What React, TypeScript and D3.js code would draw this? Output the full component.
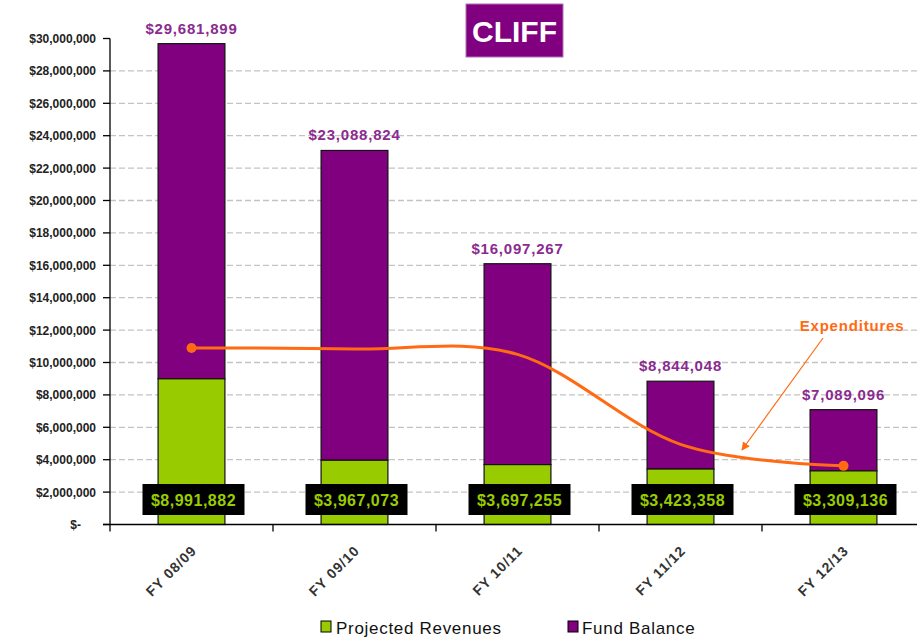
import * as d3 from "d3";

const categories = ["FY 08/09", "FY 09/10", "FY 10/11", "FY 11/12", "FY 12/13"];
const revenues = [8991882, 3967073, 3697255, 3423358, 3309136];
const totals = [29681899, 23088824, 16097267, 8844048, 7089096];
const fundBalance = totals.map((t, i) => t - revenues[i]);
const expenditures = [10900000, 10830000, 10500000, 4950000, 3620000];
const yTicks = d3.range(0, 30000001, 2000000);

const W = 917;
const H = 640;
const GREEN = "#99CC00";
const PURPLE = "#800080";
const ORANGE = "#FF6A13";
const FONT = "'Liberation Sans', Arial, sans-serif";

export default function App() {
  const left = 110;
  const right = 925;

  const xOuter = d3.scaleBand<string>().domain(categories).range([left, right]);
  const x = d3
    .scaleBand<string>()
    .domain(categories)
    .range([left, right])
    .paddingInner(0.59)
    .paddingOuter(0.295);
  const y = d3.scaleLinear().domain([0, 30000000]).range([524.5, 38.5]);

  const cx = (c: string) => (x(c) as number) + x.bandwidth() / 2;
  const money = d3.format(",");

  const line = d3
    .line<number>()
    .x((_, i) => cx(categories[i]))
    .y((d) => y(d))
    .curve(d3.curveCardinal.tension(0));

  const ends = [0, expenditures.length - 1];

  return (
    <div style={{ position: "absolute", left: 0, top: 0 }}>
      <svg width={W} height={H} style={{ display: "block", fontFamily: FONT }}>
        <defs>
          <marker id="arr" viewBox="0 0 10 10" refX="9" refY="5" markerWidth="7" markerHeight="7" orient="auto">
            <path d="M0,0 L10,5 L0,10 z" fill={ORANGE} />
          </marker>
        </defs>
        <rect width={W} height={H} fill="#fff" />

        {/* gridlines */}
        {yTicks.slice(1, -1).map((t) => (
          <line key={"g" + t} x1={left} x2={W} y1={y(t)} y2={y(t)} stroke="#c4c4c4" strokeWidth={1.3} strokeDasharray="6,3" />
        ))}

        {/* y axis */}
        <line x1={left} x2={left} y1={y(30000000)} y2={y(0)} stroke="#000" strokeWidth={1.3} />
        {yTicks.map((t) => (
          <g key={"y" + t}>
            <line x1={left - 7} x2={left} y1={y(t)} y2={y(t)} stroke="#000" strokeWidth={1.3} />
            <text
              x={t === 0 ? 81 : 96}
              y={y(t) + 4.5}
              textAnchor="end"
              fontSize={12}
              fontWeight="bold"
              fill="#222"
            >
              {t === 0 ? "$-" : "$" + money(t)}
            </text>
          </g>
        ))}

        {/* bars */}
        {categories.map((c, i) => (
          <g key={"b" + c}>
            <rect
              x={x(c)}
              y={y(revenues[i] + fundBalance[i])}
              width={x.bandwidth()}
              height={y(revenues[i]) - y(revenues[i] + fundBalance[i])}
              fill={PURPLE}
              stroke="#111"
              strokeWidth={1.2}
            />
            <rect
              x={x(c)}
              y={y(revenues[i])}
              width={x.bandwidth()}
              height={y(0) - y(revenues[i])}
              fill={GREEN}
              stroke="#111"
              strokeWidth={1.2}
            />
            <text
              x={cx(c)}
              y={y(totals[i]) - 10}
              textAnchor="middle"
              fontSize={15}
              fontWeight="bold"
              letterSpacing={0.8}
              fill="#8A2B8E"
            >
              {"$" + money(totals[i])}
            </text>
          </g>
        ))}

        {/* x axis */}
        <line x1={left - 7} x2={W} y1={y(0)} y2={y(0)} stroke="#000" strokeWidth={1.3} />
        {categories.map((c) => (
          <g key={"x" + c}>
            <line x1={xOuter(c)} x2={xOuter(c)} y1={y(0)} y2={y(0) + 7} stroke="#000" strokeWidth={1.3} />
            <text
              transform={`translate(${cx(c) + 6},${y(0) + 27}) rotate(-45)`}
              textAnchor="end"
              fontSize={14}
              fontWeight="bold"
              letterSpacing={1}
              fill="#333"
            >
              {c}
            </text>
          </g>
        ))}

        {/* expenditures line */}
        <path d={line(expenditures) ?? ""} fill="none" stroke={ORANGE} strokeWidth={3} />
        {ends.map((i) => (
          <circle key={"d" + i} cx={cx(categories[i])} cy={y(expenditures[i])} r={5} fill={ORANGE} />
        ))}
        <text x={852} y={331} textAnchor="middle" fontSize={15} fontWeight="bold" letterSpacing={0.8} fill={ORANGE}>
          Expenditures
        </text>
        <line x1={823} y1={338} x2={742} y2={450} stroke={ORANGE} strokeWidth={1.2} markerEnd="url(#arr)" />

        {/* revenue labels */}
        {categories.map((c, i) => (
          <g key={"l" + c}>
            <rect x={cx(c) - 49} y={484} width={102} height={31} fill="#000" />
            <text x={cx(c) + 2} y={505.5} textAnchor="middle" fontSize={16} fontWeight="bold" letterSpacing={0.5} fill={GREEN}>
              {"$" + money(revenues[i])}
            </text>
          </g>
        ))}

        {/* title */}
        <rect x={466} y={4} width={97} height={53} fill={PURPLE} stroke="#b070b0" strokeWidth={1} />
        <text x={514.5} y={42} textAnchor="middle" fontSize={30} fontWeight="bold" fill="#fff">
          CLIFF
        </text>

        {/* legend */}
        <rect x={321} y={621} width={10} height={11} fill={GREEN} stroke="#000" strokeWidth={1} />
        <text x={336} y={634} fontSize={17} letterSpacing={0.7} fill="#111">
          Projected Revenues
        </text>
        <rect x={568} y={621} width={10} height={11} fill={PURPLE} stroke="#000" strokeWidth={1} />
        <text x={582} y={634} fontSize={17} letterSpacing={0.7} fill="#111">
          Fund Balance
        </text>
      </svg>
    </div>
  );
}
